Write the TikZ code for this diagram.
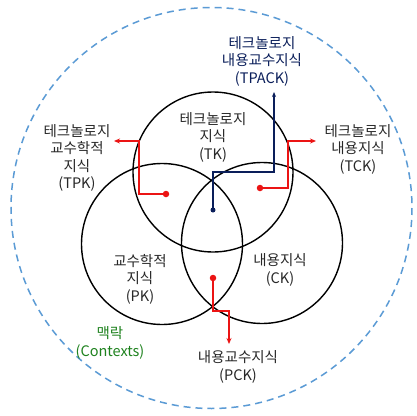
\documentclass[tikz,border=0pt]{standalone}
\usepackage{fontspec}
\setmainfont{Noto Sans CJK KR}
\usetikzlibrary{arrows.meta}
\definecolor{txt}{RGB}{40,40,40}
\definecolor{ctxblue}{RGB}{91,155,213}
\definecolor{navy}{RGB}{10,30,90}
\definecolor{ctxgreen}{RGB}{30,130,30}
\definecolor{redc}{RGB}{235,20,20}
\tikzset{
  lbl/.style={align=center,text=txt,font=\fontsize{14.5}{17.5}\selectfont,inner sep=0pt},
  venn/.style={draw=black,line width=1.4pt},
  rline/.style={draw=redc,line width=1.6pt,-{Stealth[length=6pt,width=5pt]}},
  bline/.style={draw=navy,line width=1.3pt,-{Stealth[length=5pt,width=4pt]}},
  rdot/.style={circle,fill=redc,inner sep=0pt,minimum size=6.5pt},
  bdot/.style={circle,fill=navy,inner sep=0pt,minimum size=5pt},
}
\begin{document}
\begin{tikzpicture}[x=1pt,y=-1pt]
\useasboundingbox (0,0) rectangle (416,416);
\fill[white] (0,0) rectangle (416,416);
% context circle
\draw[ctxblue,line width=1.5pt,dash pattern=on 7pt off 5pt] (211.5,208) circle[radius=200.5];
% venn circles
\draw[venn] (213,172) circle[radius=80];
\draw[venn] (162,244) circle[radius=80.5];
\draw[venn] (262,243) circle[radius=80.5];
% labels
\node[lbl] (tk) at (213,137) {테크놀로지\\지식\\(TK)};
\node[lbl] (pk) at (140,279) {교수학적\\지식\\(PK)};
\node[lbl] (ck) at (280,270) {내용지식\\(CK)};
\node[lbl,text=navy] (tpack) at (262,61) {테크놀로지\\내용교수지식\\(TPACK)};
\node[lbl] (tpk) at (77,158) {테크놀로지\\교수학적\\지식\\(TPK)};
\node[lbl] (tck) at (358,149) {테크놀로지\\내용지식\\(TCK)};
\node[lbl] (pck) at (238,367) {내용교수지식\\(PCK)};
\node[lbl,text=ctxgreen] (ctx) at (110,343) {맥락\\(Contexts)};
% dots
\node[bdot] (d1) at (213,210) {};
\node[rdot] (d2) at (166,194) {};
\node[rdot] (d3) at (260,188) {};
\node[rdot] (d4) at (213,278) {};
% bend points and tips
\coordinate (b1a) at (213,172);
\coordinate (b1b) at (274,172);
\coordinate (t1) at (274,92);
\coordinate (b2a) at (139,194);
\coordinate (b2b) at (139,141);
\coordinate (t2) at (114,141);
\coordinate (b3a) at (288,188);
\coordinate (b3b) at (288,141);
\coordinate (t3) at (316,141);
\coordinate (b4a) at (213,311);
\coordinate (b4b) at (229,311);
\coordinate (t4) at (229,344);
% connectors
\draw[bline] (d1.center) -- (b1a) -- (b1b) -- (t1);
\draw[rline] (d2.center) -- (b2a) -- (b2b) -- (t2);
\draw[rline] (d3.center) -- (b3a) -- (b3b) -- (t3);
\draw[rline] (d4.center) -- (b4a) -- (b4b) -- (t4);
\end{tikzpicture}
\end{document}
